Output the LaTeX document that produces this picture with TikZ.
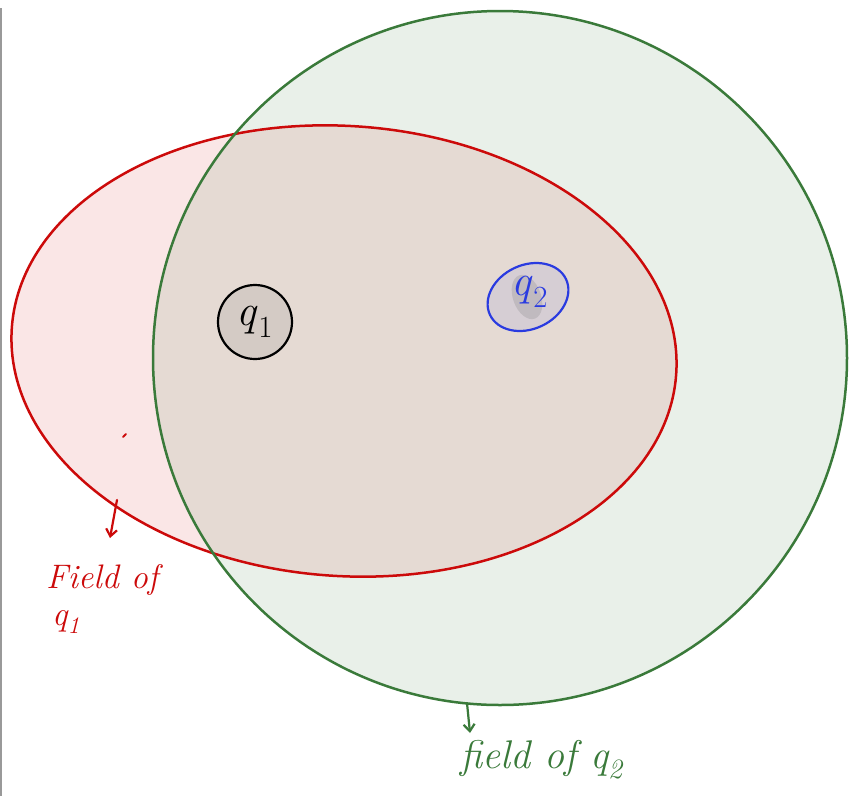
\documentclass[tikz,border=0pt]{standalone}
\usepackage{fontspec}
\usetikzlibrary{arrows.meta}
\definecolor{fred}{HTML}{CC0A0A}
\definecolor{fgreen}{HTML}{3A7A3A}
\definecolor{fblue}{HTML}{2A3BE0}
\newcommand{\qsub}[1]{\textit{q}\textsubscript{#1}}
\tikzset{
  field/.style={line width=2.5pt},
  lbl/.style={inner sep=0pt, font=\itshape\fontsize{34}{38}\selectfont},
  hand/.style={line width=2.2pt, line cap=round, -{Straight Barb[length=7pt,width=11pt]}}
}
\begin{document}
\begin{tikzpicture}[x=1pt,y=-1pt]
\useasboundingbox (0,0) rectangle (852,796);
% left edge line
\draw[gray!80, line width=1.2pt] (1,8) -- (1,796);
% red field ellipse
\fill[fred, fill opacity=0.1, rotate around={-4:(344,351)}] (344,351) ellipse [x radius=333pt, y radius=225pt];
% green field circle
\fill[fgreen, fill opacity=0.11] (500,358) circle [radius=347pt];
\draw[fred, field, rotate around={-4:(344,351)}] (344,351) ellipse [x radius=333pt, y radius=225pt];
\draw[fgreen, field] (500,358) circle [radius=347pt];
% q1
\node[draw=black, line width=2.2pt, circle, minimum size=74pt, inner sep=0pt, fill=black, fill opacity=0.07, text opacity=1, draw opacity=1, font=\fontsize{44}{48}\selectfont] (q1) at (255,322) {\qsub{1}};
% q2
\fill[fblue, fill opacity=0.08, rotate around={25:(528,297)}] (528,297) ellipse [x radius=42pt, y radius=32pt];
\fill[gray, fill opacity=0.25, rotate around={-70:(527,297)}] (527,297) ellipse [x radius=23pt, y radius=14pt];
\draw[fblue, line width=2.2pt, rotate around={25:(528,297)}] (528,297) ellipse [x radius=42pt, y radius=32pt];
\node[text=fblue, inner sep=0pt, font=\fontsize{44}{48}\selectfont] (q2) at (530,292) {\qsub{2}};
% red stray mark
\draw[fred, line width=2pt, line cap=round] (123,437) -- (126,434);
% red label
\coordinate (ra) at (117,500);
\coordinate (rb) at (110,538);
\draw[fred, hand] (ra) -- (rb);
\node[lbl, text=fred, anchor=west] (fl1) at (46,580) {Field of};
\node[lbl, text=fred, anchor=west] (fl2) at (52,622) {\qsub{1}};
% green label
\coordinate (ga) at (467,703);
\coordinate (gb) at (470,733);
\draw[fgreen, hand] (ga) -- (gb);
\node[lbl, text=fgreen, anchor=west, font=\itshape\fontsize{40}{44}\selectfont] (fg) at (460,760) {field of \qsub{2}};
\end{tikzpicture}
\end{document}
